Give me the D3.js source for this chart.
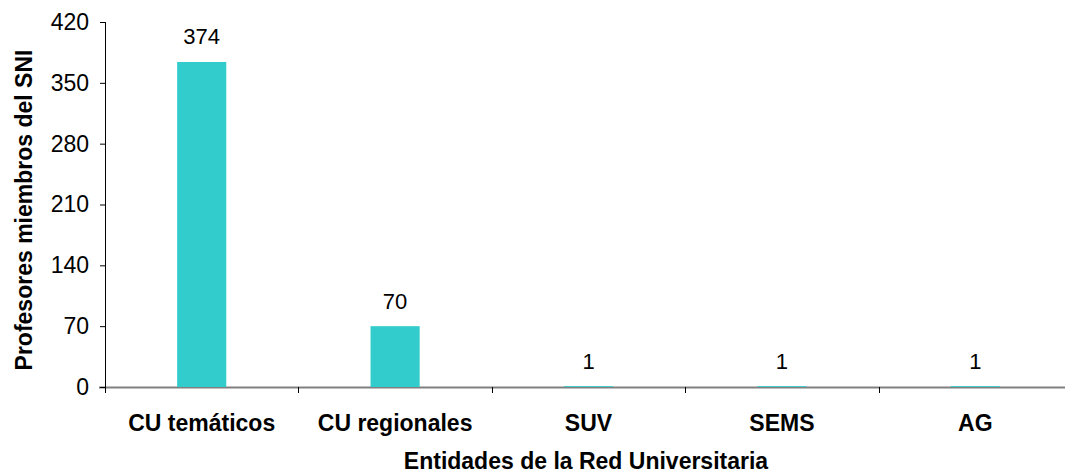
<!DOCTYPE html>
<html>
<head>
<meta charset="utf-8">
<script src="https://cdn.jsdelivr.net/npm/d3@7"></script>
<style>
  body { margin: 0; background: #fff; }
  svg { display: block; font-family: "Liberation Sans", Arial, sans-serif; }
</style>
</head>
<body>
<script>
// data
const categories = ["CU temáticos", "CU regionales", "SUV", "SEMS", "AG"];
const values = [374, 70, 1, 1, 1];
const yTicks = [0, 70, 140, 210, 280, 350, 420];

const width = 1065, height = 476;
const marginLeft = 105, plotRight = 1072, plotTop = 22, plotBottom = 387;
const font = "Liberation Sans, Arial, sans-serif";

const svg = d3.select("body").append("svg")
  .attr("width", width)
  .attr("height", height);

const x = d3.scaleBand()
  .domain(categories)
  .range([marginLeft, plotRight]);

const y = d3.scaleLinear()
  .domain([0, 420])
  .range([plotBottom, plotTop]);

const barW = x.bandwidth() * 0.254;

// x axis line (drawn under bars)
const xAxis = svg.append("g")
  .attr("transform", `translate(0,${plotBottom})`);

xAxis.append("line")
  .attr("x1", marginLeft - 6).attr("x2", plotRight)
  .attr("y1", 0.5).attr("y2", 0.5)
  .attr("stroke", "#808080")
  .attr("stroke-width", 2);

// bars
svg.selectAll("rect.bar")
  .data(categories)
  .join("rect")
    .attr("class", "bar")
    .attr("x", (d) => x(d) + x.bandwidth() / 2 - barW / 2)
    .attr("y", (d, i) => y(values[i]))
    .attr("width", barW)
    .attr("height", (d, i) => y(0) - y(values[i]))
    .attr("fill", "#33CCCC");

// value labels
svg.selectAll("text.val")
  .data(categories)
  .join("text")
    .attr("class", "val")
    .attr("x", (d) => x(d) + x.bandwidth() / 2)
    .attr("y", (d, i) => y(values[i]) - 17.5)
    .attr("text-anchor", "middle")
    .attr("font-size", 22)
    .attr("fill", "#000")
    .text((d, i) => values[i]);

// y axis
const yAxis = svg.append("g")
  .attr("transform", `translate(${marginLeft},0)`)
  .call(d3.axisLeft(y).tickValues(yTicks).tickSize(5).tickPadding(11));

yAxis.attr("font-size", 23).attr("font-family", font);
yAxis.select(".domain").attr("stroke", "#000").attr("d", `M0.5,${plotTop}V${plotBottom}`);
yAxis.selectAll(".tick line").attr("stroke", "#000");
yAxis.selectAll(".tick text")
  .attr("font-size", 23)
  .attr("fill", "#000");

// x ticks at category boundaries
xAxis.selectAll("line.tick")
  .data(categories)
  .join("line")
    .attr("class", "tick")
    .attr("x1", (d) => Math.round(x(d)) + 0.5)
    .attr("x2", (d) => Math.round(x(d)) + 0.5)
    .attr("y1", 0).attr("y2", 6)
    .attr("stroke", "#000");

xAxis.selectAll("text")
  .data(categories)
  .join("text")
    .attr("x", (d) => x(d) + x.bandwidth() / 2)
    .attr("y", 44)
    .attr("text-anchor", "middle")
    .attr("font-size", 23)
    .attr("font-weight", "bold")
    .attr("fill", "#000")
    .text((d) => d);

// axis titles
svg.append("text")
  .attr("x", 586)
  .attr("y", 469)
  .attr("text-anchor", "middle")
  .attr("font-size", 23)
  .attr("font-weight", "bold")
  .text("Entidades de la Red Universitaria");

svg.append("text")
  .attr("transform", `translate(32,210) rotate(-90)`)
  .attr("text-anchor", "middle")
  .attr("font-size", 23)
  .attr("font-weight", "bold")
  .text("Profesores miembros del SNI");
</script>
</body>
</html>
